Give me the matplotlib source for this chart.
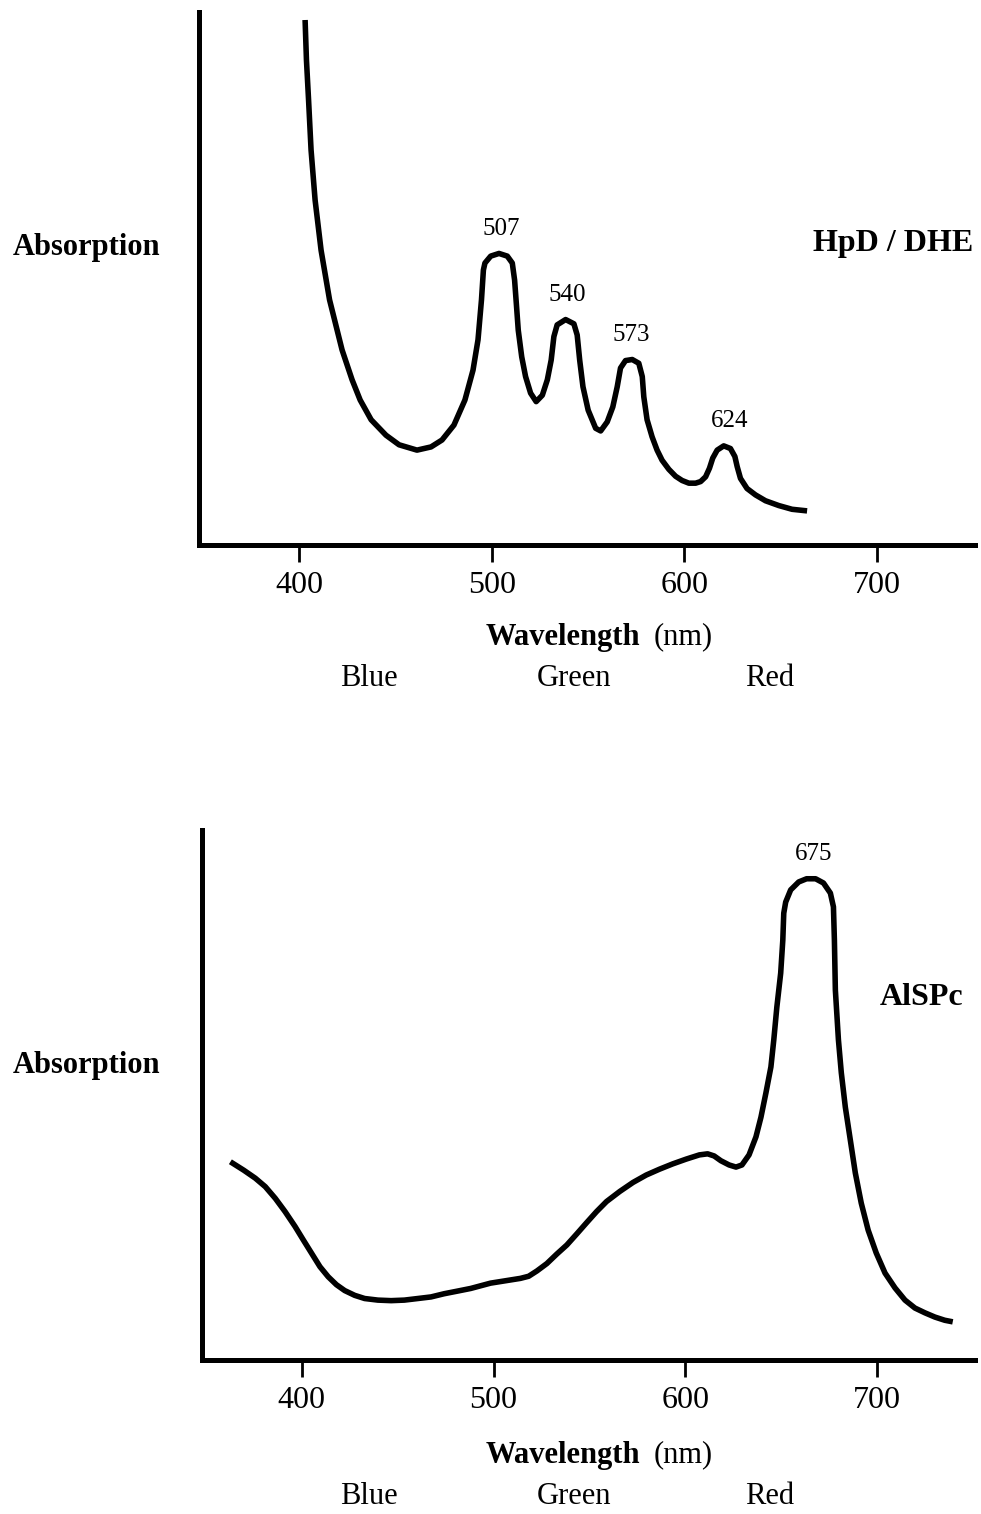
import numpy as np
import matplotlib
matplotlib.use("Agg")
import matplotlib.pyplot as plt

plt.rcParams['font.family'] = ['Liberation Serif', 'DejaVu Serif']

# HpD / DHE absorption trace (wavelength nm, arbitrary units)
hpd_nm = [403.1, 403.8, 404.9, 406.2, 408.3, 411.4, 415.8, 422.3, 427.5, 431.7,
          437.4, 445.1, 451.9, 461.2, 468.5, 474.2, 480.4, 486.1, 490.3, 492.9,
          494.7, 495.7, 496.5, 499.5, 503.8, 508.1, 510.7, 511.9, 512.8, 513.8,
          515.6, 517.6, 520.2, 523.1, 526.3, 528.9, 530.9, 532.3, 534.0, 538.4,
          542.7, 544.4, 545.7, 547.4, 550.1, 554.0, 556.6, 560.0, 562.9, 565.2,
          566.9, 569.5, 573.0, 576.4, 578.2, 579.0, 580.7, 583.3, 585.9, 588.5,
          592.0, 595.5, 598.9, 602.4, 605.9, 608.5, 611.1, 613.1, 614.8, 617.1,
          620.5, 624.0, 626.3, 627.5, 629.2, 632.6, 637.0, 642.2, 649.1, 656.0,
          663.8]
hpd_abs = [98.5, 91.0, 83.5, 74.1, 64.7, 55.3, 46.0, 36.6, 31.0, 27.2,
           23.5, 20.6, 18.8, 17.8, 18.4, 19.7, 22.5, 27.2, 32.8, 38.5,
           46.0, 51.6, 52.9, 54.2, 54.7, 54.2, 52.9, 49.7, 45.3, 40.3,
           35.3, 31.6, 28.5, 26.9, 28.1, 31.0, 34.7, 39.1, 41.3, 42.3,
           41.5, 39.4, 34.7, 29.7, 25.3, 21.9, 21.4, 23.1, 25.9, 29.7,
           33.2, 34.6, 34.8, 34.1, 31.6, 27.8, 23.5, 20.3, 17.8, 15.9,
           14.2, 12.9, 12.1, 11.6, 11.6, 11.9, 12.8, 14.4, 16.3, 17.8,
           18.6, 18.1, 16.6, 14.7, 12.5, 10.6, 9.4, 8.3, 7.4, 6.7,
           6.4]
hpd_peaks = [507, 540, 573, 624]

# AlSPc absorption trace
alspc_nm = [362.8, 369.8, 375.8, 381.0, 386.2, 391.3, 396.5, 400.9, 405.2, 409.5,
            413.8, 418.1, 422.4, 427.6, 432.8, 439.7, 446.6, 453.5, 460.5, 467.4,
            474.2, 481.2, 488.1, 498.4, 503.6, 514.0, 518.3, 522.6, 527.8, 533.0,
            538.2, 543.4, 548.5, 553.7, 558.9, 565.8, 572.7, 579.6, 586.5, 593.4,
            600.4, 607.3, 611.6, 615.0, 618.5, 622.8, 626.4, 629.5, 633.2, 636.8,
            639.4, 642.0, 644.6, 646.1, 647.7, 649.7, 650.8, 651.3, 652.3, 654.9,
            659.1, 663.2, 667.9, 672.0, 675.6, 677.2, 677.7, 678.2, 679.8, 681.3,
            683.4, 686.0, 688.6, 691.7, 695.3, 699.5, 704.1, 709.3, 714.5, 719.7,
            724.9, 730.1, 735.2, 739.4]
alspc_abs = [37.4, 35.8, 34.3, 32.7, 30.5, 28.0, 25.2, 22.6, 20.1, 17.6,
             15.7, 14.2, 13.1, 12.2, 11.6, 11.3, 11.2, 11.3, 11.6, 11.9,
             12.5, 13.0, 13.5, 14.5, 14.8, 15.4, 15.8, 16.8, 18.2, 20.0,
             21.7, 23.8, 25.9, 28.0, 29.9, 31.8, 33.5, 34.9, 36.0, 37.0,
             37.9, 38.7, 38.9, 38.5, 37.6, 36.8, 36.4, 36.8, 38.7, 42.1,
             45.8, 50.4, 55.3, 60.4, 66.6, 73.0, 79.2, 84.3, 86.4, 88.7,
             90.2, 90.8, 90.8, 90.0, 88.1, 85.5, 79.2, 69.8, 60.4, 54.2,
             47.7, 41.5, 35.3, 29.6, 24.5, 20.2, 16.4, 13.6, 11.3, 9.8,
             8.9, 8.1, 7.5, 7.2]
alspc_peaks = [675]

ticks = [400, 500, 600, 700]
bands = ['Blue', 'Green', 'Red']

W, H = 981, 1514
fig = plt.figure(figsize=(W / 100, H / 100), dpi=100)


def px(x, y):
    return x / W, 1 - y / H


def make_axes(left, top, right, bottom):
    ax = fig.add_axes([left / W, 1 - bottom / H, (right - left) / W, (bottom - top) / H])
    ax.set_xlim(348, 751)
    ax.set_ylim(0, 100)
    for s in ['top', 'right']:
        ax.spines[s].set_visible(False)
    for s in ['left', 'bottom']:
        ax.spines[s].set_linewidth(3.6)
    ax.set_yticks([])
    ax.set_xticks(ticks)
    ax.tick_params(axis='x', direction='out', length=12, width=2, pad=7, labelsize=23)
    return ax


def label_peaks(ax, nm, ab, peaks):
    nm = np.array(nm)
    ab = np.array(ab)
    for p in peaks:
        win = np.abs(nm - p) < 12
        top = ab[win].max()
        xs = nm[win][ab[win] > top - 0.6].mean()
        ax.annotate(str(p), (xs, top), xytext=(1.5, 10), textcoords='offset points',
                    ha='center', va='bottom', fontsize=18)


def side_text(ycen, title, ytitle, xtitle):
    fig.text(*px(87, ycen), 'Absorption', ha='center', va='center',
             fontsize=22, fontweight='bold')
    fig.text(*px(xtitle, ytitle), title, ha='center', va='center',
             fontsize=23, fontweight='bold')


def xlabels(ywl, yband):
    fig.text(*px(640, ywl), 'Wavelength', ha='right', va='center',
             fontsize=22, fontweight='bold')
    fig.text(*px(654, ywl), '(nm)', ha='left', va='center', fontsize=22)
    for name, xc in zip(bands, [369, 574, 770]):
        fig.text(*px(xc, yband), name, ha='center', va='center', fontsize=22)


# top panel
ax1 = make_axes(199, 12, 975, 545)
ax1.plot(hpd_nm, hpd_abs, color='black', lw=4, solid_joinstyle='round',
         solid_capstyle='butt')
label_peaks(ax1, hpd_nm, hpd_abs, hpd_peaks)
side_text(248, 'HpD / DHE', 243, 893)
xlabels(637, 679)

# bottom panel
ax2 = make_axes(202, 830, 975, 1360)
ax2.plot(alspc_nm, alspc_abs, color='black', lw=4, solid_joinstyle='round',
         solid_capstyle='butt')
label_peaks(ax2, alspc_nm, alspc_abs, alspc_peaks)
side_text(1065, 'AlSPc', 998, 922)
xlabels(1455, 1497)

fig.savefig('out.png', dpi=100)
